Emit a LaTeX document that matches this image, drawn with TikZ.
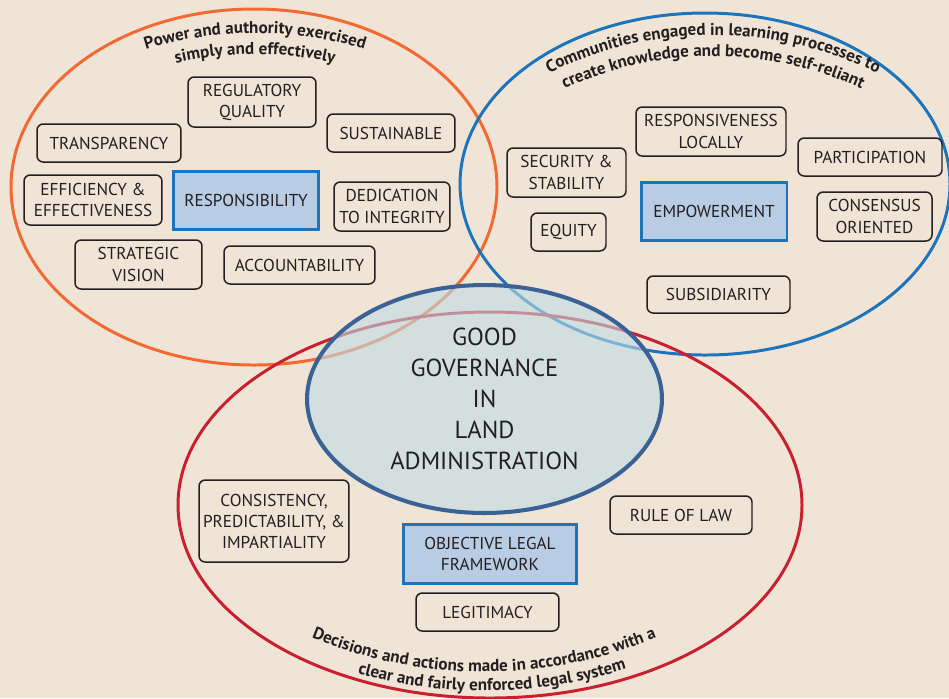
\documentclass[tikz,border=0pt]{standalone}
\usepackage{fontspec}
\setmainfont{PT Sans}
\usepackage{xcolor}
\definecolor{paperBeige}{HTML}{F0E4D6}
\definecolor{ringOrange}{HTML}{F26A32}
\definecolor{ringBlue}{HTML}{1C75BC}
\definecolor{ringRed}{HTML}{C8202F}
\definecolor{coreFill}{HTML}{BEDCE4}
\definecolor{coreBorder}{HTML}{3B6294}
\definecolor{keyFill}{HTML}{B8CCE4}
\definecolor{darkText}{HTML}{231F20}
\usepackage{tikz}
\usetikzlibrary{
    shapes.geometric,
    decorations.text,
    positioning
}
\tikzset{
    % Outer rings - one per theme
    ring/.style={
        line width=1.7pt,
    },
    % Value boxes - thin rounded outline
    valuebox/.style={
        rectangle,
        rounded corners=3.5pt,
        draw=darkText,
        line width=0.85pt,
        text=darkText,
        align=center,
        inner sep=1pt,
        font=\fontsize{9.8}{12}\selectfont,
    },
    % Key value of each ring - filled blue box
    keybox/.style={
        valuebox,
        sharp corners,
        draw=ringBlue,
        line width=1.7pt,
        fill=keyFill,
    },
    % Centre ellipse - see-through fill
    core ellipse/.style={
        ellipse,
        draw=coreBorder,
        line width=2.3pt,
        fill=coreFill,
        fill opacity=0.6,
        text opacity=1,
        text=darkText,
        align=center,
        inner sep=0pt,
        font=\fontsize{14}{17.6}\selectfont,
    },
    % Captions bent along the rings
    arc caption/.style={
        decorate,
        decoration={
            text along path,
            text align=center,
            text={|\fontsize{9.7}{11}\selectfont\bfseries\color{darkText}|#1}
        },
    },
}

\begin{document}
\begin{tikzpicture}[x=0.02cm, y=-0.02cm]
    \useasboundingbox[fill=paperBeige] (0,0) rectangle (949,698);

    % rings
    \draw [ring, ringOrange] (254,187) ellipse [x radius=243, y radius=178];
    \draw [ring, ringBlue] (705,184) ellipse [x radius=245, y radius=171];
    \draw [ring, ringRed] (490,505) ellipse [x radius=312, y radius=193];

    % centre
    \node (core) [core ellipse, minimum width=7.1cm, minimum height=4.56cm] at (484.5,399)
        {GOOD\\GOVERNANCE\\IN\\LAND\\ADMINISTRATION};

    % captions (radii in cm, angles on the page)
    \path [arc caption={Power and authority exercised}]
        (255,403) ++(118:7.4cm) arc [start angle=118, end angle=62, radius=7.4cm];
    \path [arc caption={simply and effectively}]
        (255,403) ++(118:6.98cm) arc [start angle=118, end angle=62, radius=6.98cm];
    \path [arc caption={Communities engaged in learning processes to}]
        (713,408) ++(127:7.46cm) arc [start angle=127, end angle=53, radius=7.46cm];
    \path [arc caption={create knowledge and become self-reliant}]
        (713,408) ++(127:7.04cm) arc [start angle=127, end angle=53, radius=7.04cm];
    \path [arc caption={Decisions and actions made in accordance with a}]
        (484,220) ++(-120:9.04cm) arc [start angle=-120, end angle=-60, radius=9.04cm];
    \path [arc caption={clear and fairly enforced legal system}]
        (484,220) ++(-119:9.42cm) arc [start angle=-119, end angle=-59, radius=9.42cm];

    % responsibility ring
    \node (regulatory) [valuebox, minimum width=2.56cm, minimum height=1cm] at (252,102) {REGULATORY\\QUALITY};
    \node (transparency) [valuebox, minimum width=2.88cm, minimum height=0.76cm] at (109,143) {TRANSPARENCY};
    \node (sustainable) [valuebox, minimum width=2.56cm, minimum height=0.76cm] at (391,133) {SUSTAINABLE};
    \node (efficiency) [valuebox, minimum width=2.76cm, minimum height=1cm] at (93,200) {EFFICIENCY \&\\EFFECTIVENESS};
    \node (responsibility) [keybox, minimum width=2.92cm, minimum height=1.16cm] at (246,200) {RESPONSIBILITY};
    \node (integrity) [valuebox, minimum width=2.32cm, minimum height=0.98cm] at (392,206.5) {DEDICATION\\TO INTEGRITY};
    \node (vision) [valuebox, minimum width=2.54cm, minimum height=0.98cm] at (138.5,264.5) {STRATEGIC\\VISION};
    \node (accountability) [valuebox, minimum width=3.02cm, minimum height=0.76cm] at (299.5,265) {ACCOUNTABILITY};

    % empowerment ring
    \node (responsiveness) [valuebox, minimum width=3cm, minimum height=0.98cm] at (711,131.5) {RESPONSIVENESS\\LOCALLY};
    \node (security) [valuebox, minimum width=2.38cm, minimum height=0.98cm] at (566.5,172.5) {SECURITY \&\\STABILITY};
    \node (participation) [valuebox, minimum width=2.88cm, minimum height=0.76cm] at (870,157) {PARTICIPATION};
    \node (empowerment) [keybox, minimum width=2.92cm, minimum height=1.16cm] at (714,211) {EMPOWERMENT};
    \node (equity) [valuebox, minimum width=1.5cm, minimum height=0.76cm] at (568.5,232) {EQUITY};
    \node (consensus) [valuebox, minimum width=2.3cm, minimum height=0.98cm] at (874.5,216.5) {CONSENSUS\\ORIENTED};
    \node (subsidiarity) [valuebox, minimum width=2.86cm, minimum height=0.74cm] at (718.5,294.5) {SUBSIDIARITY};

    % legal framework ring
    \node (consistency) [valuebox, minimum width=3cm, minimum height=1.64cm] at (274,521) {CONSISTENCY,\\PREDICTABILITY, \&\\IMPARTIALITY};
    \node (legal) [keybox, minimum width=3.48cm, minimum height=1.18cm] at (490,553.5) {OBJECTIVE LEGAL\\FRAMEWORK};
    \node (rulelaw) [valuebox, minimum width=2.84cm, minimum height=0.76cm] at (681,515) {RULE OF LAW};
    \node (legitimacy) [valuebox, minimum width=2.86cm, minimum height=0.76cm] at (487.5,612) {LEGITIMACY};
\end{tikzpicture}
\end{document}
